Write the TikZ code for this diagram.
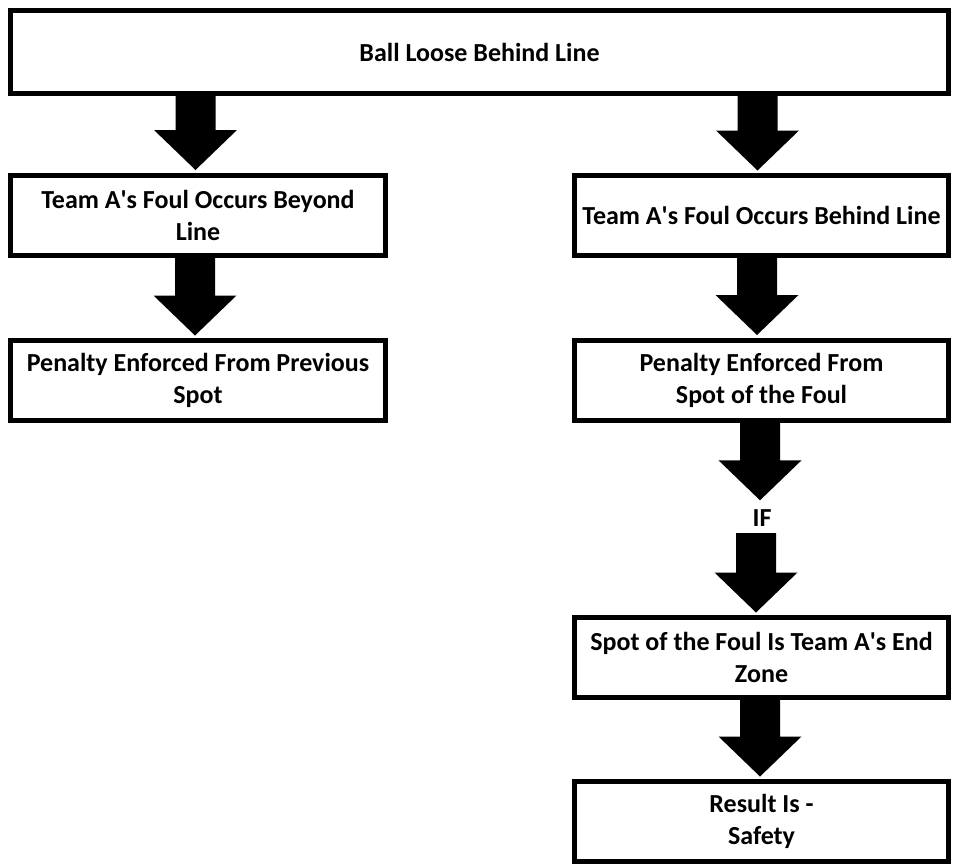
\documentclass[tikz,border=0pt]{standalone}
\usepackage{fontspec}
\setmainfont{Carlito}
\usetikzlibrary{calc}
\newcommand{\apo}{\textquotesingle}
\tikzset{
  box/.style={draw=black, line width=5pt, fill=white, align=center,
    font=\bfseries\fontsize{26}{32}\selectfont, inner sep=0pt,
    minimum height=80pt},
  lbox/.style={box, minimum width=375pt},
  rbox/.style={box, minimum width=374pt},
  lbl/.style={font=\bfseries\fontsize{26}{32}\selectfont, inner sep=0pt,
    minimum height=30pt},
  fat/.style={fill=black}
}
% #1 horizontal offset from the target node, #2 start anchor, #3 end anchor
\newcommand{\fatarrow}[3]{%
  \path[fat] let \p1=(#2), \p2=(#3) in
    ({\x2+(#1)-20pt},\y1) -- ({\x2+(#1)+20pt},\y1)
    -- ({\x2+(#1)+20pt},{\y2+42.5pt}) -- ({\x2+(#1)+41.5pt},{\y2+42.5pt})
    -- ({\x2+(#1)},{\y2+2.5pt})
    -- ({\x2+(#1)-41.5pt},{\y2+42.5pt}) -- ({\x2+(#1)-20pt},{\y2+42.5pt})
    -- cycle;}
\begin{document}
\begin{tikzpicture}[x=1pt,y=-1pt]
\useasboundingbox (0,0) rectangle (953,865);
\node[box, minimum width=938pt, minimum height=83pt] (top) at (479.5,52) {Ball Loose Behind Line};
\node[lbox] (l1) at (198,215) {Team A\apo s Foul Occurs Beyond\\Line};
\node[lbox] (l2) at (198,380.5) {Penalty Enforced From Previous\\Spot};
\node[rbox] (r1) at (761.5,215.5) {Team A\apo s Foul Occurs Behind Line};
\node[rbox] (r2) at (761.5,380) {Penalty Enforced From\\Spot of the Foul};
\node[lbl] (if) at (762,518) {IF};
\node[rbox] (r3) at (761.5,657.5) {Spot of the Foul Is Team A\apo s End\\Zone};
\node[rbox] (r4) at (761.5,821.5) {Result Is -\\Safety};
\fatarrow{-2.5pt}{top.south}{l1.north}
\fatarrow{-3pt}{l1.south}{l2.north}
\fatarrow{-4pt}{top.south}{r1.north}
\fatarrow{-4.5pt}{r1.south}{r2.north}
\fatarrow{-2pt}{r2.south}{if.north}
\fatarrow{-5.5pt}{if.south}{r3.north}
\fatarrow{-1.5pt}{r3.south}{r4.north}
\end{tikzpicture}
\end{document}
